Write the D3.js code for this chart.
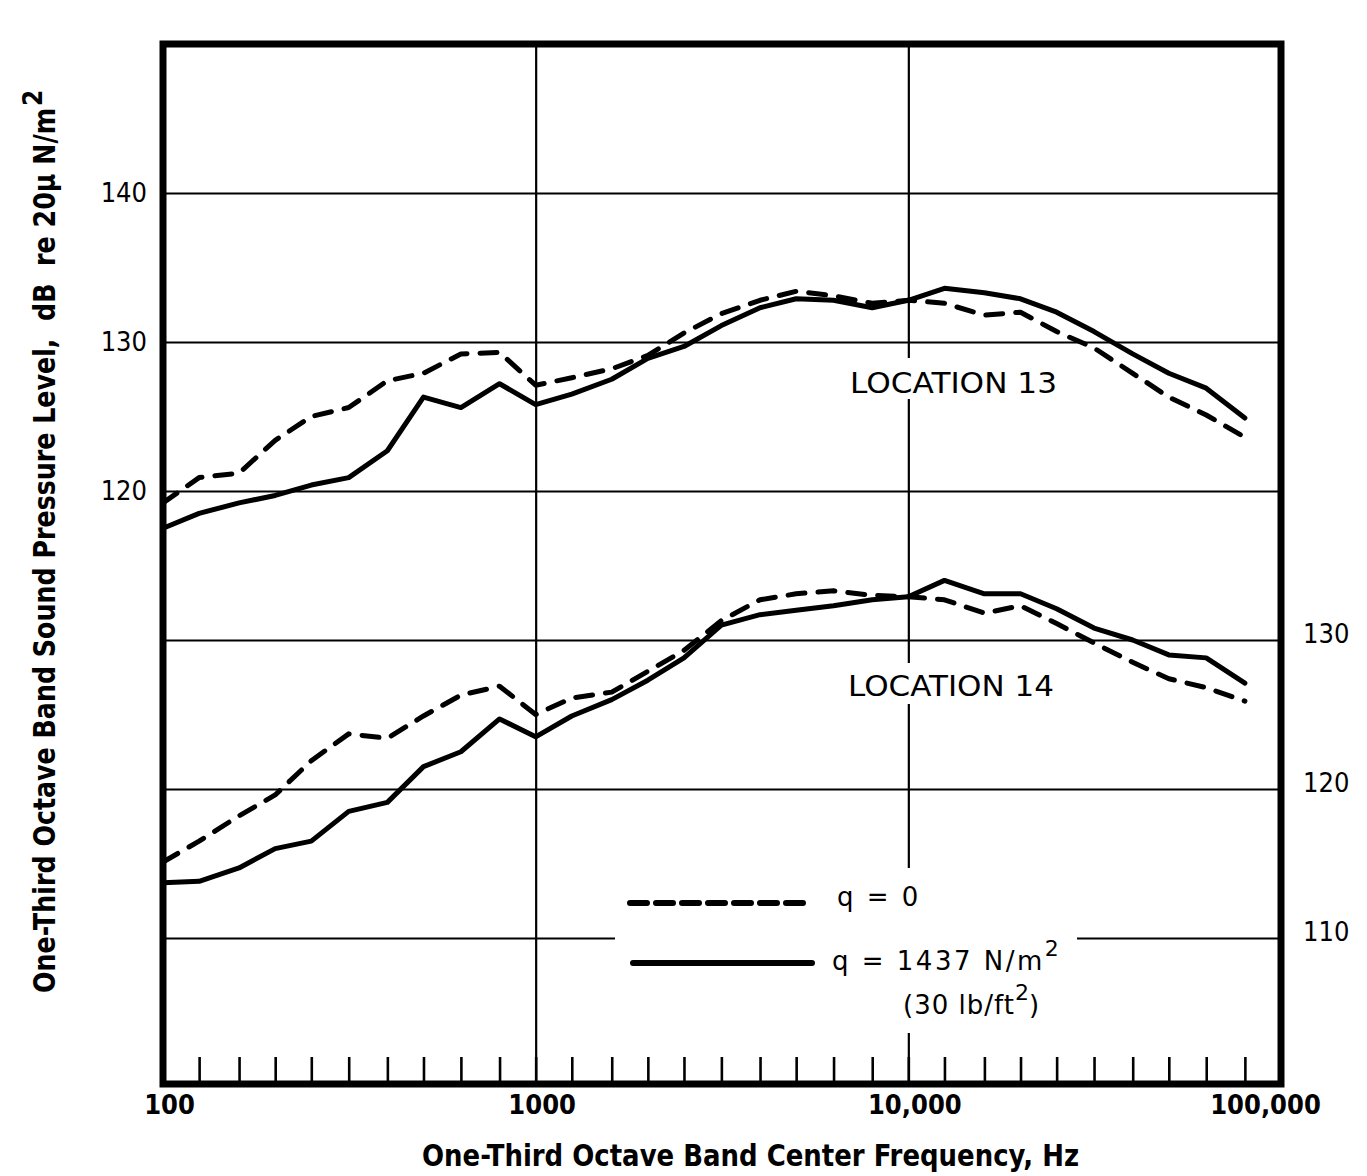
<!DOCTYPE html>
<html>
<head>
<meta charset="utf-8">
<script src="https://cdn.jsdelivr.net/npm/d3@7"></script>
<style>
  body { margin: 0; background: #fff; }
  svg { display: block; }
  .bold { font-family: "Liberation Sans Narrow", "DejaVu Sans Condensed", "Liberation Sans", sans-serif; font-weight: bold; }
  .reg { font-family: "Liberation Sans Narrow", "DejaVu Sans Condensed", "Liberation Sans", sans-serif; }
  .geo { font-family: "DejaVu Sans", sans-serif; }
</style>
</head>
<body>
<script>
"use strict";

// one-third octave band centre frequencies, Hz
var bands = [100, 125, 160, 200, 250, 315, 400, 500, 630, 800,
  1000, 1250, 1600, 2000, 2500, 3150, 4000, 5000, 6300, 8000,
  10000, 12500, 16000, 20000, 25000, 31500, 40000, 50000, 63000, 80000];

// location 13, left scale (dB)
var loc13q0 = [119.2, 120.9, 121.2, 123.4, 125.0, 125.6, 127.4, 127.9, 129.2, 129.3,
  127.1, 127.6, 128.2, 129.1, 130.6, 131.9, 132.8, 133.4, 133.1, 132.6,
  132.8, 132.6, 131.8, 132.0, 130.7, 129.6, 127.9, 126.3, 125.1, 123.6];
var loc13q1437 = [117.5, 118.5, 119.2, 119.7, 120.4, 120.9, 122.7, 126.3, 125.6, 127.2,
  125.8, 126.5, 127.5, 128.9, 129.7, 131.1, 132.3, 132.9, 132.8, 132.3,
  132.8, 133.6, 133.3, 132.9, 132.0, 130.7, 129.2, 127.9, 126.9, 124.9];

// location 14, right scale (dB)
var loc14q0 = [115.1, 116.5, 118.2, 119.6, 121.9, 123.7, 123.4, 124.9, 126.3, 126.9,
  125.0, 126.1, 126.5, 127.9, 129.3, 131.3, 132.7, 133.1, 133.3, 133.0,
  132.9, 132.7, 131.8, 132.3, 131.1, 129.8, 128.5, 127.4, 126.8, 125.9];
var loc14q1437 = [113.7, 113.8, 114.7, 116.0, 116.5, 118.5, 119.1, 121.5, 122.5, 124.7,
  123.5, 124.9, 126.0, 127.3, 128.8, 131.0, 131.7, 132.0, 132.3, 132.7,
  132.9, 134.0, 133.1, 133.1, 132.1, 130.8, 130.0, 129.0, 128.8, 127.1];

var xLabels = [100, 1000, 10000, 100000];
var leftLabels = [120, 130, 140];
var rightLabels = [110, 120, 130];
var gridLevels = [90, 100, 110, 120, 130, 140];
var gridFreqs = [1000, 10000];

var W = 1367, H = 1176;
var svg = d3.select('body').append('svg').attr('width', W).attr('height', H);

var x = d3.scaleLog().domain([100, 100000]).range([163, 1281]);
var yL = d3.scaleLinear().domain([80.2, 150]).range([1084, 44]);
var yR = d3.scaleLinear().domain([100.2, 170]).range([1084, 44]);

var plotL = x.range()[0], plotR = x.range()[1];
var plotT = yL.range()[1], plotB = yL.range()[0];

// grid
svg.append('g')
  .attr('transform', 'translate(' + plotL + ',0)')
  .call(d3.axisLeft(yL).tickValues(gridLevels).tickSize(-(plotR - plotL)).tickFormat(''))
  .call(function (g) { g.select('.domain').remove(); })
  .selectAll('line').attr('stroke', '#000').attr('stroke-width', 2.2);

svg.append('g')
  .attr('transform', 'translate(0,' + plotB + ')')
  .call(d3.axisBottom(x).tickValues(gridFreqs).tickSize(-(plotB - plotT)).tickFormat(''))
  .call(function (g) { g.select('.domain').remove(); })
  .selectAll('line').attr('stroke', '#000').attr('stroke-width', 2.2);

// white patches behind labels and legend
function patch(x0, y0, x1, y1) {
  svg.append('rect').attr('x', x0).attr('y', y0)
    .attr('width', x1 - x0).attr('height', y1 - y0).attr('fill', '#fff');
}
patch(840, 358, 1068, 399);
patch(838, 663, 1066, 704);
patch(615, 868, 1077, 1033);

// minor ticks along the bottom
svg.append('g')
  .attr('transform', 'translate(0,' + plotB + ')')
  .call(d3.axisBottom(x).tickValues(bands).tickSize(-27).tickFormat(''))
  .call(function (g) { g.select('.domain').remove(); })
  .selectAll('line').attr('stroke', '#000').attr('stroke-width', 2.6);

// curves
function curve(vals, scale, dashed) {
  var line = d3.line()
    .x(function (d, i) { return x(bands[i]); })
    .y(function (d) { return scale(d); });
  svg.append('path')
    .datum(vals)
    .attr('d', line)
    .attr('fill', 'none')
    .attr('stroke', '#000')
    .attr('stroke-width', 5)
    .attr('stroke-linejoin', 'round')
    .attr('stroke-linecap', 'round')
    .attr('stroke-dasharray', dashed ? '17,13' : null);
}
curve(loc13q0, yL, true);
curve(loc13q1437, yL, false);
curve(loc14q0, yR, true);
curve(loc14q1437, yR, false);

// frame
svg.append('rect')
  .attr('x', plotL).attr('y', plotT)
  .attr('width', plotR - plotL).attr('height', plotB - plotT)
  .attr('fill', 'none').attr('stroke', '#000').attr('stroke-width', 7);

// axis labels
var gx = svg.append('g')
  .attr('transform', 'translate(0,' + plotB + ')')
  .call(d3.axisBottom(x).tickValues(xLabels).tickSize(0).tickPadding(11)
    .tickFormat(function (d) { return d < 10000 ? String(d) : d3.format(',')(d); }));
gx.select('.domain').remove();
gx.selectAll('text')
  .attr('class', 'bold').attr('font-size', 27).attr('fill', '#000')
  .attr('dx', function (d) { return d === 100000 ? -16 : 6; });

var gl = svg.append('g')
  .attr('transform', 'translate(' + plotL + ',0)')
  .call(d3.axisLeft(yL).tickValues(leftLabels).tickSize(0).tickPadding(16));
gl.select('.domain').remove();
gl.selectAll('text')
  .attr('class', 'reg').attr('font-size', 27).attr('fill', '#000');

var gr = svg.append('g')
  .attr('transform', 'translate(' + plotR + ',0)')
  .call(d3.axisRight(yR).tickValues(rightLabels).tickSize(0).tickPadding(22));
gr.select('.domain').remove();
gr.selectAll('text')
  .attr('class', 'reg').attr('font-size', 27).attr('fill', '#000')
  .attr('dy', '0.1em');

// axis titles
svg.append('text')
  .attr('class', 'bold').attr('font-size', 30)
  .attr('x', 422).attr('y', 1166)
  .attr('textLength', 657).attr('lengthAdjust', 'spacingAndGlyphs')
  .style('white-space', 'pre')
  .text('One-Third Octave Band Center Frequency, Hz');

var yt = svg.append('text')
  .attr('class', 'bold').attr('font-size', 30)
  .attr('transform', 'translate(55,993) rotate(-90)')
  .style('white-space', 'pre');
yt.append('tspan')
  .attr('textLength', 885).attr('lengthAdjust', 'spacingAndGlyphs')
  .text('One-Third Octave Band Sound Pressure Level,  dB  re 20\u03bc N/m');
yt.append('tspan').attr('dy', -13).attr('dx', 2).attr('font-size', 26).text('2');

// location labels
svg.append('text').attr('class', 'geo').attr('font-size', 29)
  .attr('x', 850).attr('y', 393)
  .attr('textLength', 207).attr('lengthAdjust', 'spacingAndGlyphs')
  .text('LOCATION 13');
svg.append('text').attr('class', 'geo').attr('font-size', 29)
  .attr('x', 848).attr('y', 696)
  .attr('textLength', 206).attr('lengthAdjust', 'spacingAndGlyphs')
  .text('LOCATION 14');

// legend
svg.append('line').attr('x1', 630).attr('x2', 812).attr('y1', 903).attr('y2', 903)
  .attr('stroke', '#000').attr('stroke-width', 6)
  .attr('stroke-linecap', 'round').attr('stroke-dasharray', '17,9');
svg.append('line').attr('x1', 633).attr('x2', 812).attr('y1', 963).attr('y2', 963)
  .attr('stroke', '#000').attr('stroke-width', 6).attr('stroke-linecap', 'round');

svg.append('text').attr('class', 'geo').attr('font-size', 26)
  .attr('x', 837).attr('y', 906)
  .style('letter-spacing', '2.5px')
  .text('q = 0');

var t2 = svg.append('text').attr('class', 'geo').attr('font-size', 26)
  .attr('x', 832).attr('y', 970);
t2.append('tspan').style('letter-spacing', '2.5px').text('q = 1437 N/m');
t2.append('tspan').attr('dy', -14).attr('font-size', 22).text('2');

var t3 = svg.append('text').attr('class', 'geo').attr('font-size', 26)
  .attr('x', 903).attr('y', 1014);
t3.append('tspan').style('letter-spacing', '1px').text('(30 lb/ft');
t3.append('tspan').attr('dy', -14).attr('font-size', 22).text('2');
t3.append('tspan').attr('dy', 14).text(')');
</script>
</body>
</html>
